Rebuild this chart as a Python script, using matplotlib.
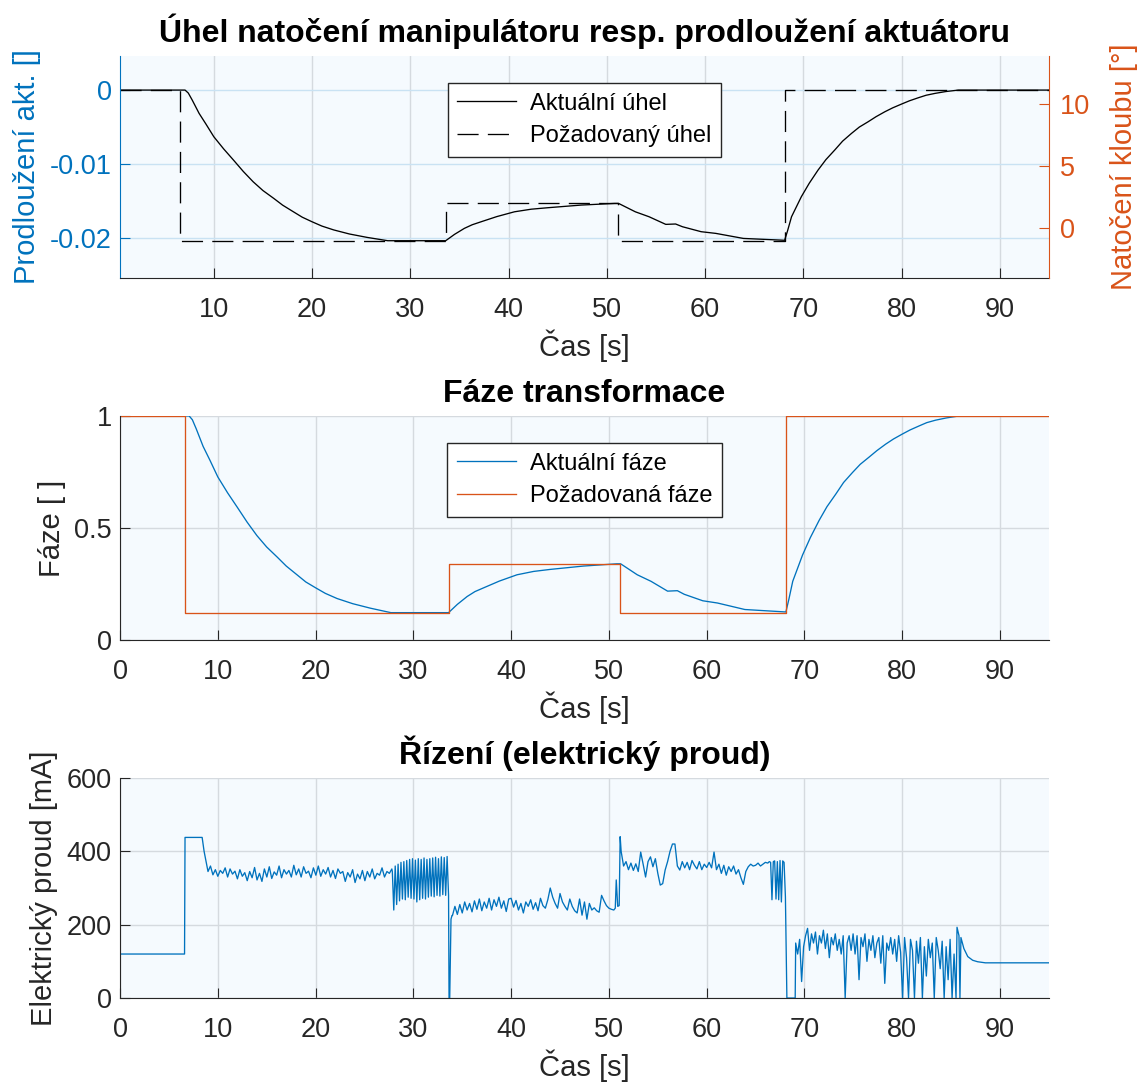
import numpy as np
import matplotlib
matplotlib.use("Agg")
import matplotlib.pyplot as plt

plt.rcParams['font.family'] = ['Liberation Sans', 'DejaVu Sans']

BLUE = '#0072BD'
ORANGE = '#D95319'
TXT = '#262626'
BG = '#F5FAFE'
GRID = '#D5DADF'

# --- uhel / prodlouzeni aktuatoru (top) ---
t_act = [0.45, 7.07, 7.4, 7.8, 8.5, 9.2, 10, 11, 12, 13, 14, 15, 16.1, 17, 18.1,
         19, 20, 21, 22.2, 23.8, 25.6, 27.7, 33.6, 34.5, 35.5, 36.3, 37.2, 38.8,
         40.6, 42.3, 44, 47.4, 50.8, 51.2, 52.9, 54.3, 56.0, 57.0, 57.7, 59.6,
         61.1, 63.9, 68.1, 68.4, 68.8, 69.8, 70.6, 71.5, 72.3, 73.2, 74, 74.9,
         75.7, 76.6, 77.4, 78.3, 79.1, 80, 80.8, 81.7, 82.5, 83.4, 84.5, 85.8, 95]
ext_act = [0, 0, -0.0004, -0.00135, -0.00315, -0.0046, -0.00631, -0.00795, -0.00946,
           -0.011, -0.01239, -0.01358, -0.01464, -0.01555, -0.01645, -0.01718, -0.0178,
           -0.01838, -0.0189, -0.01945, -0.01991, -0.02036, -0.02036, -0.0195, -0.01869,
           -0.0182, -0.0178, -0.0171, -0.01645, -0.0161, -0.0159, -0.01554, -0.01532,
           -0.01532, -0.01645, -0.01712, -0.01815, -0.0181, -0.01847, -0.01914, -0.01937,
           -0.02005, -0.0203, -0.0190, -0.01712, -0.01441, -0.0126, -0.01081, -0.0094,
           -0.0081, -0.0069, -0.00586, -0.0050, -0.00428, -0.0036, -0.00293, -0.0024,
           -0.00189, -0.00145, -0.00104, -0.0007, -0.00045, -0.0002, 0, 0]
t_des = [0.45, 6.6, 6.6, 33.6, 33.6, 51.1, 51.1, 68.1, 68.1, 95]
ext_des = [0, 0, -0.0204, -0.0204, -0.01527, -0.01527, -0.0204, -0.0204, 0, 0]

# --- faze (middle) ---
t_phase = [0, 7.07, 7.4, 7.8, 8.5, 9.2, 10, 11, 12, 13, 14, 15, 16.1, 17, 18.1,
           19, 20, 21, 22.2, 23.8, 25.6, 27.7, 33.6, 34.5, 35.5, 36.3, 37.2, 38.8,
           40.6, 42.3, 44, 47.4, 50.8, 51.2, 52.9, 54.3, 56.0, 57.0, 57.7, 59.6,
           61.1, 63.9, 68.1, 68.4, 68.8, 69.8, 70.6, 71.5, 72.3, 73.2, 74, 74.9,
           75.7, 76.6, 77.4, 78.3, 79.1, 80, 80.8, 81.7, 82.5, 83.4, 84.5, 85.8, 95]
phase_act = [1, 1, 0.983, 0.942, 0.864, 0.802, 0.728, 0.657, 0.592, 0.526, 0.466,
             0.415, 0.369, 0.330, 0.291, 0.259, 0.233, 0.208, 0.185, 0.162, 0.142,
             0.122, 0.122, 0.159, 0.194, 0.216, 0.233, 0.263, 0.291, 0.306, 0.315,
             0.330, 0.340, 0.340, 0.291, 0.262, 0.218, 0.220, 0.204, 0.175, 0.165,
             0.136, 0.125, 0.181, 0.262, 0.379, 0.457, 0.534, 0.595, 0.651, 0.703,
             0.747, 0.784, 0.816, 0.845, 0.874, 0.897, 0.919, 0.9375, 0.955, 0.970,
             0.981, 0.991, 1, 1]
t_phase_des = [0, 6.6, 6.6, 33.6, 33.6, 51.1, 51.1, 68.1, 68.1, 95]
phase_des = [1, 1, 0.12, 0.12, 0.34, 0.34, 0.12, 0.12, 1, 1]

# --- elektricky proud (bottom), read piece by piece ---
cur_t_start = [0, 6.6, 6.65, 8.4, 8.6, 8.8]
cur_start = [120, 120, 438, 438, 400, 372]
cur_b = [345, 360, 336, 350, 332, 348, 340, 355, 330, 352, 338, 346, 325, 350, 332,
         342, 320, 345, 328, 356, 322, 340, 318, 352, 330, 358, 326, 344, 335, 360,
         328, 350, 338, 348, 330, 362, 336, 352, 330, 358, 340, 346, 328, 355, 335,
         360, 332, 350, 338, 356, 330, 348, 326, 352, 340, 345, 318, 342, 330, 350,
         315, 338, 325, 348, 320, 345, 330, 352, 325, 340, 335, 355, 330, 345, 340, 352]
cur_c = [345, 240, 360, 255, 365, 265, 370, 270, 372, 268, 375, 275, 378, 272, 380,
         270, 376, 262, 380, 268, 378, 272, 382, 270, 378, 275, 380, 278, 382, 276,
         384, 280, 380, 278, 385, 282, 383, 280, 386, 280]
cur_t_drop1 = [33.65, 33.72, 33.85, 33.95]
cur_drop1 = [0, 0, 215, 225]
cur_d = [225, 250, 228, 255, 232, 262, 240, 258, 235, 265, 242, 270, 238, 262, 245,
         272, 240, 268, 250, 275, 245, 265, 236, 270,
         272, 248, 266, 240, 258, 232, 262, 250, 268, 242, 260, 238, 272, 252, 245, 268,
         300, 275, 258, 245, 285, 262, 250, 240,
         270, 250, 238, 232, 270, 226, 262, 215, 258, 240, 246, 238, 234, 280, 265,
         252, 245, 242, 240]
cur_t_jump = [50.65, 50.75, 50.9, 51.05, 51.15]
cur_jump = [245, 322, 250, 252, 440]
cur_e = [400, 360, 372, 350, 368, 348, 366, 345, 398,
         365, 330, 372, 385, 358, 380, 340, 308, 312,
         349, 372, 400, 420, 420, 360, 349, 372, 355,
         370, 350, 375, 362, 352, 372, 350, 365, 356,
         370, 355, 398, 350, 365, 340, 362, 335, 358,
         345, 360, 338, 350, 328, 310, 345, 358, 365,
         360, 362, 368, 360, 365, 370, 368]
cur_dense = [372, 370, 268, 372, 374, 270, 372, 268, 375, 262, 374, 370, 276]
cur_t_drop2 = [68.2, 69.05]
cur_drop2 = [0, 0]
cur_f = [150, 120, 160, 45, 140, 170, 190, 130, 175, 150,
         180, 120, 170, 150, 185, 135, 175, 110, 165, 145,
         175, 130, 160, 120, 170, 0, 150, 170, 130, 175,
         120, 170, 50, 165, 140, 175, 100, 160, 130, 170,
         110, 150, 165, 95, 170, 40, 150, 130, 165, 120,
         160, 100, 170, 125, 0, 165, 110, 0, 160, 130,
         0, 155, 95, 165, 0, 140, 60, 160, 110, 150,
         0, 165, 130, 80, 155, 0, 140, 50, 160, 0,
         120, 0]
cur_t_tail = [85.6, 85.8, 85.9, 86.0, 86.3, 86.7, 87.2, 87.7, 88.5, 95]
cur_tail = [193, 170, 0, 165, 135, 113, 103, 99, 96, 96]

cur_t = np.concatenate([
    cur_t_start,
    np.linspace(9.0, 27.8, len(cur_b)),
    np.linspace(27.85, 33.6, len(cur_c)),
    cur_t_drop1,
    np.linspace(34.0, 50.5, len(cur_d)),
    cur_t_jump,
    np.linspace(51.25, 66.25, len(cur_e)),
    np.linspace(66.4, 68.05, len(cur_dense)),
    cur_t_drop2,
    np.linspace(69.1, 85.5, len(cur_f)),
    cur_t_tail])
cur = np.concatenate([cur_start, cur_b, cur_c, cur_drop1, cur_d, cur_jump, cur_e,
                      cur_dense, cur_drop2, cur_f, cur_tail])

x_ticks = [0, 10, 20, 30, 40, 50, 60, 70, 80, 90]

TICK_FS = 19.5
LABEL_FS = 21
TITLE_FS = 23
LEG_FS = 17
LW = 0.95


def style_axes(ax):
    ax.set_facecolor(BG)
    ax.spines['top'].set_visible(False)
    ax.spines['right'].set_visible(False)
    for s in ('left', 'bottom'):
        ax.spines[s].set_color(TXT)
    ax.tick_params(direction='in', length=7, labelsize=TICK_FS, colors=TXT,
                   top=False, right=False)
    ax.tick_params(axis='x', pad=13.5)
    ax.tick_params(axis='y', pad=6)
    ax.grid(True, color=GRID, linewidth=1.0)
    ax.set_axisbelow(True)
    ax.set_xlabel('Čas [s]', fontsize=LABEL_FS, color=TXT, labelpad=5)


def add_legend(ax):
    ax.legend(loc='upper center', bbox_to_anchor=(0.5, 0.878), fontsize=LEG_FS,
              fancybox=False, edgecolor=TXT, facecolor='white', framealpha=1,
              handlelength=2.5, borderpad=0.4, labelspacing=0.45, borderaxespad=0,
              handletextpad=0.6)


fig = plt.figure(figsize=(11.44, 10.86), dpi=100)
W = 0.812
L = 0.1049

# top
ax1 = fig.add_axes([L, 0.744, W, 0.2044])
style_axes(ax1)
ax1.plot(t_act, ext_act, color='k', lw=LW, label='Aktuální úhel')
ax1.plot(t_des, ext_des, color='k', lw=LW, dashes=(16, 7), label='Požadovaný úhel')
ax1.set_xlim(0.45, 95)
ax1.set_ylim(-0.0254, 0.0046)
ax1.set_xticks(x_ticks[1:])
ax1.set_yticks([-0.02, -0.01, 0], ['-0.02', '-0.01', '0'])
ax1.spines['left'].set_color(BLUE)
ax1.tick_params(axis='y', colors=BLUE)
ax1.grid(True, axis='y', color='#C9E2F3')
ax1.set_ylabel('Prodloužení akt. []', fontsize=LABEL_FS, color=BLUE, labelpad=6)
ax1.set_title('Úhel natočení manipulátoru resp. prodloužení aktuátoru',
              fontsize=TITLE_FS, fontweight='bold', pad=10)
add_legend(ax1)

ax1r = ax1.twinx()
ax1r.set_ylim(-4.05, 13.9)
ax1r.set_yticks([0, 5, 10])
ax1r.spines['top'].set_visible(False)
ax1r.spines['left'].set_visible(False)
ax1r.spines['bottom'].set_visible(False)
ax1r.spines['right'].set_color(ORANGE)
ax1r.tick_params(axis='y', direction='in', length=7, labelsize=TICK_FS, colors=ORANGE,
                 pad=8)
ax1r.set_ylabel('Natočení kloubu [°]', fontsize=LABEL_FS, color=ORANGE, labelpad=14)

# middle
ax2 = fig.add_axes([L, 0.4107, W, 0.2063])
style_axes(ax2)
ax2.plot(t_phase, phase_act, color=BLUE, lw=LW, label='Aktuální fáze')
ax2.plot(t_phase_des, phase_des, color=ORANGE, lw=LW, label='Požadovaná fáze')
ax2.set_xlim(0, 95)
ax2.set_ylim(0, 1)
ax2.set_xticks(x_ticks)
ax2.set_yticks([0, 0.5, 1], ['0', '0.5', '1'])
ax2.set_ylabel('Fáze [ ]', fontsize=LABEL_FS, color=TXT, labelpad=6)
ax2.set_title('Fáze transformace', fontsize=TITLE_FS, fontweight='bold', pad=10)
add_legend(ax2)

# bottom
ax3 = fig.add_axes([L, 0.081, W, 0.2026])
style_axes(ax3)
ax3.plot(cur_t, cur, color=BLUE, lw=LW)
ax3.set_xlim(0, 95)
ax3.set_ylim(0, 600)
ax3.set_xticks(x_ticks)
ax3.set_yticks([0, 200, 400, 600])
ax3.set_ylabel('Elektrický proud [mA]', fontsize=LABEL_FS, color=TXT, labelpad=6)
ax3.set_title('Řízení (elektrický proud)', fontsize=TITLE_FS, fontweight='bold', pad=10)

fig.savefig('out.png', dpi=100, facecolor='white')
